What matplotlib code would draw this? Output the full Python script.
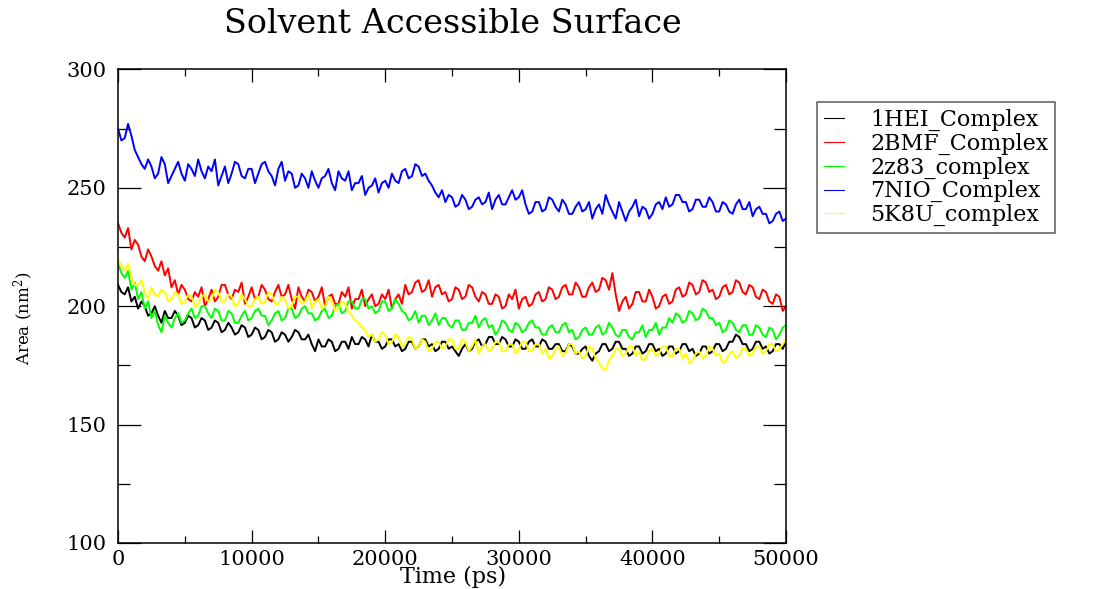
import numpy as np
import matplotlib.pyplot as plt

# SASA traces, one value every 250 ps
time = np.arange(0, 50001, 250)

hei = [209,206, 205,208, 202,204, 199,202, 200,196, 197,200, 196,193, 198,195, 195,198, 196,192,
       193,196, 195,191, 192,195, 194,190, 191,194, 193,189, 190,193, 191,188, 189,192, 191,187,
       188,191, 190,186, 187,190, 189,185, 186,189, 188,185, 187,190, 189,186, 186,188, 184,181,
       186,183, 183,186, 185,181, 182,185, 185,182, 187,184, 184,187, 186,183, 188,185, 185,182,
       183,186, 186,183, 184,181, 182,185, 185,182, 183,186, 186,183, 184,181, 182,185, 185,182,
       183,181, 179,182, 184,181, 182,185, 186,183, 184,187, 187,184, 184,187, 186,183, 183,186,
       185,182, 182,185, 186,183, 183,186, 185,182, 182,184, 184,181, 181,184, 183,180, 180,182,
       183,179, 177,180, 181,184, 184,181, 182,185, 185,182, 182,179, 180,183, 183,180, 181,184,
       184,181, 182,179, 180,183, 183,180, 181,184, 184,181, 182,179, 180,183, 183,180, 181,184,
       184,181, 182,185, 185,188, 187,184, 184,181, 182,185, 185,182, 183,180, 181,184, 184,182,
       185]

bmf = [235,231, 229,233, 224,228, 226,221, 219,224, 221,217, 215,219, 213,216, 208,211, 205,209,
       207,203, 202,206, 204,208, 200,203, 207,202, 204,209, 209,205, 203,207, 206,210, 201,204,
       208,203, 204,209, 207,203, 202,206, 209,204, 205,209, 203,199, 208,204, 202,207, 206,202,
       204,208, 200,204, 205,201, 201,206, 204,208, 199,203, 203,207, 200,203, 205,200, 201,205,
       203,207, 199,203, 205,201, 209,205, 206,210, 211,206, 207,211, 204,208, 209,205, 206,202,
       203,208, 207,203, 204,209, 208,204, 202,206, 205,201, 201,205, 204,199, 200,205, 203,207,
       199,203, 204,200, 201,205, 206,202, 203,208, 207,203, 204,208, 209,205, 205,210, 208,204,
       204,208, 210,206, 207,212, 211,207, 214,205, 198,202, 204,199, 201,206, 206,202, 202,207,
       204,199, 200,204, 205,201, 202,207, 208,204, 205,210, 209,205, 206,211, 210,206, 207,203,
       204,208, 209,205, 206,211, 210,206, 205,209, 208,204, 203,207, 206,202, 201,205, 204,198,
       200]

z83 = [218,214, 212,215, 207,210, 203,206, 199,202, 195,198, 192,189, 196,193, 191,195, 197,193,
       194,197, 199,195, 196,200, 200,197, 195,199, 198,194, 194,198, 197,193, 193,196, 198,194,
       195,198, 199,196, 196,192, 194,197, 198,194, 195,199, 199,195, 196,199, 200,197, 197,194,
       195,198, 199,195, 196,200, 201,197, 198,202, 202,199, 199,203, 203,199, 200,197, 198,202,
       202,198, 199,203, 201,198, 197,194, 195,198, 193,196, 196,192, 194,197, 192,195, 195,192,
       191,194, 194,190, 190,193, 193,196, 191,194, 195,191, 192,188, 190,194, 193,190, 189,193,
       192,189, 190,193, 194,191, 191,188, 188,191, 192,189, 189,192, 193,189, 190,186, 187,190,
       191,188, 188,191, 192,188, 189,193, 191,188, 187,190, 190,187, 186,189, 189,192, 187,190,
       190,193, 188,191, 191,195, 193,197, 196,193, 194,198, 197,194, 195,199, 198,195, 195,192,
       193,189, 190,194, 193,190, 189,192, 192,188, 188,192, 191,188, 187,191, 190,186, 188,191,
       192]

nio = [275,270, 271,277, 272,266, 263,260, 258,262, 259,254, 256,263, 260,252, 255,258, 261,256,
       253,260, 258,255, 262,257, 254,259, 257,262, 251,255, 259,252, 256,261, 260,255, 254,258,
       258,252, 256,260, 261,257, 255,251, 258,261, 253,257, 256,250, 251,256, 254,250, 257,253,
       250,254, 255,258, 252,249, 257,254, 253,257, 249,252, 252,255, 247,250, 251,254, 248,252,
       253,250, 256,253, 252,257, 258,254, 255,260, 259,255, 256,253, 251,248, 246,249, 244,247,
       246,242, 243,247, 245,241, 242,245, 246,243, 244,248, 241,245, 247,243, 243,246, 249,245,
       246,249, 243,239, 240,244, 244,240, 241,246, 245,242, 240,245, 243,239, 239,242, 244,240,
       241,244, 237,241, 243,239, 247,243, 240,237, 244,240, 236,240, 242,245, 238,242, 241,237,
       239,243, 244,241, 246,242, 243,247, 247,244, 244,240, 241,245, 245,242, 242,246, 244,240,
       240,244, 243,240, 239,243, 245,241, 241,244, 238,241, 242,239, 239,235, 236,239, 240,236,
       237]

k8u = [220,217, 215,218, 212,209, 209,211, 206,203, 208,205, 204,207, 206,202, 203,206, 205,201,
       202,205, 204,200, 201,204, 205,202, 203,207, 206,202, 202,205, 204,200, 201,205, 203,200,
       200,203, 204,201, 202,206, 205,201, 201,204, 203,199, 200,204, 204,201, 202,205, 199,202,
       203,199, 200,204, 202,198, 199,202, 201,198, 196,194, 193,191, 190,187, 188,185, 186,189,
       188,184, 185,188, 187,183, 184,187, 186,182, 183,186, 185,181, 182,185, 185,182, 183,186,
       186,182, 182,186, 185,181, 183,186, 180,183, 184,181, 182,185, 185,181, 181,184, 184,180,
       182,185, 185,181, 181,184, 184,180, 182,178, 179,182, 183,179, 180,184, 184,180, 181,178,
       179,183, 182,178, 176,174, 173,177, 179,182, 182,179, 180,183, 183,179, 181,177, 178,181,
       182,179, 180,183, 183,179, 179,182, 182,178, 180,176, 177,180, 181,178, 179,183, 182,179,
       180,176, 177,180, 181,178, 179,182, 182,179, 180,183, 183,180, 181,184, 184,181, 182,184,
       186]

seriesList = [hei, bmf, z83, nio, k8u]
labels = ["1HEI_Complex", "2BMF_Complex", "2z83_complex", "7NIO_Complex", "5K8U_complex"]
colors = ["#000000", "#ff0000", "#00ff00", "#0000ff", "#ffff00"]

plt.rcParams['font.family'] = 'DejaVu Serif'
plt.rcParams['mathtext.fontset'] = 'dejavuserif'

fig = plt.figure(figsize=(10.94, 5.89), dpi=100)
ax = fig.add_axes([0.1079, 0.0781, 0.6106, 0.8040])

for s, c, lab in zip(seriesList, colors, labels):
  ax.plot(time, s, color=c, lw=1.4, label=lab)

ax.set_xlim(0, 50000)
ax.set_ylim(100, 300)
ax.set_xticks(range(0, 50001, 10000))
ax.set_xticks(range(5000, 50000, 10000), minor=True)
ax.set_yticks(range(100, 301, 50))
ax.set_yticks(range(125, 300, 50), minor=True)

ax.tick_params(which='both', direction='in', top=True, right=True, width=0.9)
ax.tick_params(axis='x', which='major', length=9.4, labelsize=15, pad=5)
ax.tick_params(axis='x', which='minor', length=5)
ax.tick_params(axis='y', which='major', length=16.5, labelsize=15, pad=8)
ax.tick_params(axis='y', which='minor', length=8.6)
for sp in ax.spines.values():
  sp.set_linewidth(1.1)

ax.set_xlabel("Time (ps)", fontsize=16, va='center')
ax.xaxis.set_label_coords(0.5015, -0.072)
ax.set_ylabel(r"Area (nm$^2$)", fontsize=12)
ax.yaxis.set_label_coords(-0.123, 0.475)

fig.text(0.414, 0.944, "Solvent Accessible Surface", fontsize=24, ha='center', va='baseline')

leg = ax.legend(loc='upper left', bbox_to_anchor=(0.747, 0.827), bbox_transform=fig.transFigure,
                fontsize=16, frameon=True, fancybox=False, borderaxespad=0,
                handlelength=0.9, handletextpad=1.2, labelspacing=0.08, borderpad=0.3)
leg.get_frame().set_edgecolor('#333333')
leg.get_frame().set_linewidth(1.1)
for h in leg.get_lines():
  h.set_linewidth(0.8)

plt.savefig("out.png", dpi=100)
